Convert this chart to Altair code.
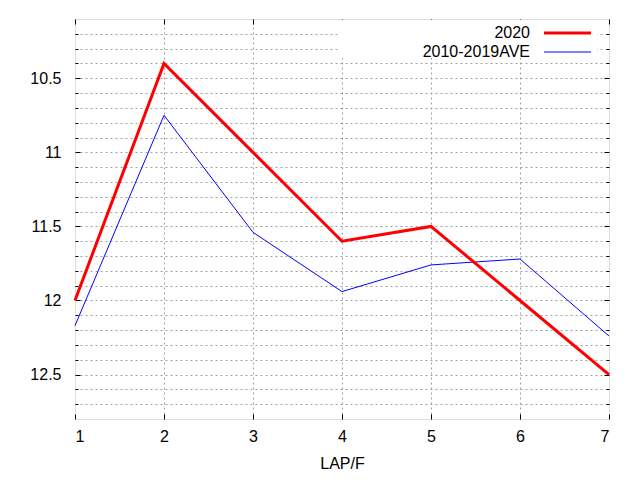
import pandas as pd
import altair as alt

# lap numbers and lap times
laps = [1, 2, 3, 4, 5, 6, 7]
time_2020 = [12.0, 10.4, 11.0, 11.6, 11.5, 12.0, 12.5]
time_ave = [12.17, 10.75, 11.54, 11.94, 11.76, 11.72, 12.24]
series = ["2020", "2010-2019AVE"]
colors = ["#ff0000", "#0000ff"]

y_major = [10.5, 11, 11.5, 12, 12.5]
y_minor = [10.2, 10.3, 10.4, 10.6, 10.7, 10.8, 10.9, 11.1, 11.2, 11.3, 11.4,
           11.6, 11.7, 11.8, 11.9, 12.1, 12.2, 12.3, 12.4, 12.6, 12.7]
y_grid = sorted(y_major + y_minor)
x_grid = [2, 3, 4, 5, 6]

df = pd.DataFrame({
    "lap": laps * 2,
    "time": time_2020 + time_ave,
    "series": [series[0]] * 7 + [series[1]] * 7,
})

W, H = 534, 400
FONT = "Liberation Sans"

x_scale = alt.Scale(domain=[1, 7], nice=False, zero=False)
y_scale = alt.Scale(domain=[10.1, 12.8], reverse=True, nice=False, zero=False)


# inward tick marks: an axis pulled inside the frame by its own tick length
def tick_axis(orient, values, size):
    return alt.Axis(orient=orient, values=values, tickSize=size, offset=-size,
                    labels=False, domain=False, grid=False, title=None,
                    tickColor="black", tickWidth=1)


# invisible layer that only carries axes
def axis_layer(x_axis, y_axis):
    return alt.Chart(df).mark_point(opacity=0).encode(
        x=alt.X("lap:Q", scale=x_scale, axis=x_axis),
        y=alt.Y("time:Q", scale=y_scale, axis=y_axis),
    )


grid_x = alt.Axis(orient="bottom", values=x_grid, grid=True, labels=False,
                  ticks=False, domain=False, title=None, gridColor="#a0a0a0",
                  gridDash=[2, 3], gridWidth=1)
grid_y = alt.Axis(orient="left", values=y_grid, grid=True, labels=False,
                  ticks=False, domain=False, title=None, gridColor="#a0a0a0",
                  gridDash=[2, 3], gridWidth=1)
label_x = alt.Axis(orient="bottom", values=laps, grid=False, ticks=False,
                   domain=False, labelPadding=9, labelFontSize=16,
                   labelColor="black", title="LAP/F", titleFontSize=16,
                   titleFontWeight="normal", titleColor="black", titlePadding=11)
label_y = alt.Axis(orient="left", values=y_major, format="~g", grid=False,
                   ticks=False, domain=False, labelPadding=14, labelFontSize=16,
                   labelColor="black", title=None)

layers = [
    axis_layer(grid_x, grid_y),
    axis_layer(label_x, label_y),
    axis_layer(tick_axis("bottom", laps, 5), tick_axis("left", y_major, 5)),
    axis_layer(tick_axis("top", laps, 5), tick_axis("left", y_minor, 3)),
    axis_layer(None, tick_axis("right", y_major, 5)),
    axis_layer(None, tick_axis("right", y_minor, 3)),
]

# legend box (white, hides the grid behind it)
legend_bg = alt.Chart(pd.DataFrame({"series": series[:1]})).mark_rect(
    color="white").encode(
    x=alt.value(263), x2=alt.value(522), y=alt.value(1), y2=alt.value(39))
layers.append(legend_bg)

for name, color, width in [(series[1], colors[1], 1), (series[0], colors[0], 3)]:
    line = alt.Chart(df).transform_filter(alt.datum.series == name).mark_line(
        color=color, strokeWidth=width, strokeJoin="miter").encode(
        x=alt.X("lap:Q", scale=x_scale, axis=None),
        y=alt.Y("time:Q", scale=y_scale, axis=None),
    )
    layers.append(line)

for i, (name, color) in enumerate(zip(series, colors)):
    row_y = 14 + 19 * i
    key = pd.DataFrame({"series": [name]})
    sample = alt.Chart(key).mark_rule(
        color=color, strokeWidth=3 if i == 0 else 1).encode(
        x=alt.value(469), x2=alt.value(516), y=alt.value(row_y))
    label = alt.Chart(key).mark_text(
        align="right", baseline="middle", fontSize=16, font=FONT,
        color="black").encode(
        text="series:N", x=alt.value(455), y=alt.value(row_y))
    layers += [sample, label]

chart = alt.layer(*layers).resolve_axis(
    x="independent", y="independent"
).properties(
    width=W, height=H,
    autosize=alt.AutoSizeParams(type="none"),
    padding={"left": 67, "top": 11, "right": 23, "bottom": 53},
).configure_view(
    stroke="black", strokeWidth=1
).configure(
    font=FONT
)

chart.save("out.html", embed_options={"renderer": "svg", "actions": False})
